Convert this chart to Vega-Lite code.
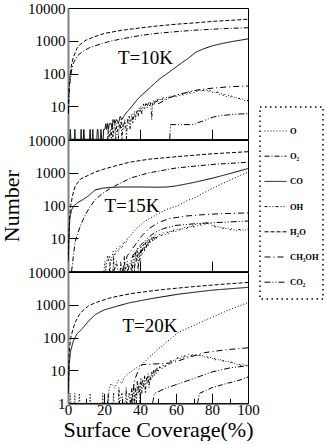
{
  "$schema": "https://vega.github.io/schema/vega-lite/v6.json",
  "padding": {"left": 0, "top": 0, "right": 0, "bottom": 0},
  "bounds": "flush",
  "datasets": {
    "lines": [
      {"p":1,"s":"H₂O","x":0.2,"y":8},{"p":1,"s":"H₂O","x":0.5,"y":30},{"p":1,"s":"H₂O","x":1,"y":70},{"p":1,"s":"H₂O","x":2,"y":200},{"p":1,"s":"H₂O","x":3,"y":320},{"p":1,"s":"H₂O","x":5,"y":590},{"p":1,"s":"H₂O","x":7,"y":800},{"p":1,"s":"H₂O","x":10,"y":1050},{"p":1,"s":"H₂O","x":15,"y":1350},{"p":1,"s":"H₂O","x":20,"y":1670},{"p":1,"s":"H₂O","x":30,"y":2100},{"p":1,"s":"H₂O","x":40,"y":2470},{"p":1,"s":"H₂O","x":50,"y":2850},{"p":1,"s":"H₂O","x":60,"y":3200},{"p":1,"s":"H₂O","x":70,"y":3500},{"p":1,"s":"H₂O","x":80,"y":3900},{"p":1,"s":"H₂O","x":90,"y":4200},{"p":1,"s":"H₂O","x":100,"y":4550},
      {"p":1,"s":"O₂","x":0.2,"y":6},{"p":1,"s":"O₂","x":0.5,"y":20},{"p":1,"s":"O₂","x":1,"y":50},{"p":1,"s":"O₂","x":2,"y":130},{"p":1,"s":"O₂","x":3,"y":210},{"p":1,"s":"O₂","x":5,"y":340},{"p":1,"s":"O₂","x":8,"y":470},{"p":1,"s":"O₂","x":12,"y":620},{"p":1,"s":"O₂","x":19,"y":830},{"p":1,"s":"O₂","x":24,"y":990},{"p":1,"s":"O₂","x":30,"y":1150},{"p":1,"s":"O₂","x":40,"y":1450},{"p":1,"s":"O₂","x":50,"y":1700},{"p":1,"s":"O₂","x":60,"y":1900},{"p":1,"s":"O₂","x":70,"y":2100},{"p":1,"s":"O₂","x":80,"y":2250},{"p":1,"s":"O₂","x":90,"y":2400},{"p":1,"s":"O₂","x":100,"y":2500},
      {"p":1,"s":"CO","x":1,"y":1},{"p":1,"s":"CO","x":1.3,"y":2},{"p":1,"s":"CO","x":1.6,"y":1},{"p":1,"s":"CO","x":3.5,"y":1},{"p":1,"s":"CO","x":3.8,"y":2},{"p":1,"s":"CO","x":4.1,"y":1},{"p":1,"s":"CO","x":7,"y":1},{"p":1,"s":"CO","x":7.3,"y":2},{"p":1,"s":"CO","x":7.6,"y":1},{"p":1,"s":"CO","x":8.5,"y":1},{"p":1,"s":"CO","x":8.8,"y":2},{"p":1,"s":"CO","x":9.1,"y":1},{"p":1,"s":"CO","x":12,"y":1},{"p":1,"s":"CO","x":12.3,"y":2},{"p":1,"s":"CO","x":12.6,"y":1},{"p":1,"s":"CO","x":13.5,"y":1},{"p":1,"s":"CO","x":13.8,"y":2},{"p":1,"s":"CO","x":14.1,"y":1},{"p":1,"s":"CO","x":16,"y":1},{"p":1,"s":"CO","x":16.3,"y":2},{"p":1,"s":"CO","x":16.6,"y":2},{"p":1,"s":"CO","x":17,"y":1},{"p":1,"s":"CO","x":18,"y":1},{"p":1,"s":"CO","x":18.3,"y":2},{"p":1,"s":"CO","x":18.7,"y":1},{"p":1,"s":"CO","x":19.5,"y":1},{"p":1,"s":"CO","x":19.8,"y":2},{"p":1,"s":"CO","x":20.5,"y":2},{"p":1,"s":"CO","x":21,"y":3},{"p":1,"s":"CO","x":21.5,"y":2},{"p":1,"s":"CO","x":22,"y":3},{"p":1,"s":"CO","x":22.5,"y":2},{"p":1,"s":"CO","x":23,"y":3},{"p":1,"s":"CO","x":24,"y":3},{"p":1,"s":"CO","x":24.5,"y":2},{"p":1,"s":"CO","x":25,"y":4},{"p":1,"s":"CO","x":26,"y":3},{"p":1,"s":"CO","x":27,"y":4},{"p":1,"s":"CO","x":28,"y":3},{"p":1,"s":"CO","x":29,"y":5},{"p":1,"s":"CO","x":30,"y":4},{"p":1,"s":"CO","x":31,"y":5},{"p":1,"s":"CO","x":32,"y":6},{"p":1,"s":"CO","x":33,"y":7},{"p":1,"s":"CO","x":34,"y":8},{"p":1,"s":"CO","x":36,"y":11},{"p":1,"s":"CO","x":38,"y":15},{"p":1,"s":"CO","x":40,"y":20},{"p":1,"s":"CO","x":42,"y":25},{"p":1,"s":"CO","x":45,"y":35},{"p":1,"s":"CO","x":48,"y":50},{"p":1,"s":"CO","x":51,"y":70},{"p":1,"s":"CO","x":55,"y":100},{"p":1,"s":"CO","x":59,"y":145},{"p":1,"s":"CO","x":63,"y":210},{"p":1,"s":"CO","x":67,"y":300},{"p":1,"s":"CO","x":71,"y":450},{"p":1,"s":"CO","x":75,"y":560},{"p":1,"s":"CO","x":80,"y":700},{"p":1,"s":"CO","x":84,"y":790},{"p":1,"s":"CO","x":88,"y":880},{"p":1,"s":"CO","x":92,"y":970},{"p":1,"s":"CO","x":96,"y":1050},{"p":1,"s":"CO","x":100,"y":1150},
      {"p":1,"s":"OH","x":22,"y":1},{"p":1,"s":"OH","x":22.3,"y":2},{"p":1,"s":"OH","x":22.6,"y":1},{"p":1,"s":"OH","x":23.5,"y":2},{"p":1,"s":"OH","x":24,"y":1},{"p":1,"s":"OH","x":24.5,"y":3},{"p":1,"s":"OH","x":25,"y":1},{"p":1,"s":"OH","x":25.5,"y":2},{"p":1,"s":"OH","x":26,"y":4},{"p":1,"s":"OH","x":26.5,"y":1},{"p":1,"s":"OH","x":27,"y":3},{"p":1,"s":"OH","x":27.5,"y":2},{"p":1,"s":"OH","x":28,"y":1},{"p":1,"s":"OH","x":28.5,"y":3},{"p":1,"s":"OH","x":29,"y":2},{"p":1,"s":"OH","x":29.5,"y":4},{"p":1,"s":"OH","x":30,"y":1},{"p":1,"s":"OH","x":30.5,"y":3},{"p":1,"s":"OH","x":31,"y":2},{"p":1,"s":"OH","x":31.5,"y":4},{"p":1,"s":"OH","x":32,"y":3},{"p":1,"s":"OH","x":32.5,"y":1},{"p":1,"s":"OH","x":33,"y":4},{"p":1,"s":"OH","x":33.5,"y":3},{"p":1,"s":"OH","x":34,"y":5},{"p":1,"s":"OH","x":34.5,"y":2},{"p":1,"s":"OH","x":35,"y":4},{"p":1,"s":"OH","x":35.5,"y":6},{"p":1,"s":"OH","x":36,"y":3},{"p":1,"s":"OH","x":36.5,"y":5},{"p":1,"s":"OH","x":37,"y":7},{"p":1,"s":"OH","x":37.5,"y":4},{"p":1,"s":"OH","x":38,"y":6},{"p":1,"s":"OH","x":38.5,"y":8},{"p":1,"s":"OH","x":39,"y":5},{"p":1,"s":"OH","x":39.5,"y":9},{"p":1,"s":"OH","x":40,"y":7},{"p":1,"s":"OH","x":40.5,"y":10},{"p":1,"s":"OH","x":41,"y":6},{"p":1,"s":"OH","x":41.5,"y":9},{"p":1,"s":"OH","x":42,"y":12},{"p":1,"s":"OH","x":42.5,"y":8},{"p":1,"s":"OH","x":43,"y":11},{"p":1,"s":"OH","x":43.5,"y":13},{"p":1,"s":"OH","x":44,"y":9},{"p":1,"s":"OH","x":44.5,"y":12},{"p":1,"s":"OH","x":45,"y":14},{"p":1,"s":"OH","x":45.5,"y":10},{"p":1,"s":"OH","x":46,"y":13},{"p":1,"s":"OH","x":46.5,"y":4},{"p":1,"s":"OH","x":47,"y":12},{"p":1,"s":"OH","x":47.5,"y":15},{"p":1,"s":"OH","x":48,"y":11},{"p":1,"s":"OH","x":48.5,"y":16},{"p":1,"s":"OH","x":49,"y":13},{"p":1,"s":"OH","x":49.5,"y":17},{"p":1,"s":"OH","x":50,"y":14},{"p":1,"s":"OH","x":51,"y":18},{"p":1,"s":"OH","x":52,"y":15},{"p":1,"s":"OH","x":53,"y":19},{"p":1,"s":"OH","x":54,"y":16},{"p":1,"s":"OH","x":55,"y":20},{"p":1,"s":"OH","x":56,"y":18},{"p":1,"s":"OH","x":57,"y":22},{"p":1,"s":"OH","x":58,"y":19},{"p":1,"s":"OH","x":59,"y":23},{"p":1,"s":"OH","x":60,"y":20},{"p":1,"s":"OH","x":61,"y":24},{"p":1,"s":"OH","x":62,"y":21},{"p":1,"s":"OH","x":63,"y":25},{"p":1,"s":"OH","x":64,"y":22},{"p":1,"s":"OH","x":65,"y":26},{"p":1,"s":"OH","x":66,"y":23},{"p":1,"s":"OH","x":67,"y":28},{"p":1,"s":"OH","x":68,"y":25},{"p":1,"s":"OH","x":69,"y":30},{"p":1,"s":"OH","x":70,"y":26},{"p":1,"s":"OH","x":71,"y":31},{"p":1,"s":"OH","x":72,"y":27},{"p":1,"s":"OH","x":73,"y":33},{"p":1,"s":"OH","x":74,"y":28},{"p":1,"s":"OH","x":75,"y":32},{"p":1,"s":"OH","x":76,"y":29},{"p":1,"s":"OH","x":77,"y":34},{"p":1,"s":"OH","x":78,"y":27},{"p":1,"s":"OH","x":79,"y":31},{"p":1,"s":"OH","x":80,"y":26},{"p":1,"s":"OH","x":81,"y":29},{"p":1,"s":"OH","x":82,"y":25},{"p":1,"s":"OH","x":83,"y":28},{"p":1,"s":"OH","x":84,"y":23},{"p":1,"s":"OH","x":85,"y":26},{"p":1,"s":"OH","x":86,"y":21},{"p":1,"s":"OH","x":87,"y":24},{"p":1,"s":"OH","x":88,"y":20},{"p":1,"s":"OH","x":89,"y":22},{"p":1,"s":"OH","x":90,"y":19},{"p":1,"s":"OH","x":91,"y":21},{"p":1,"s":"OH","x":92,"y":18},{"p":1,"s":"OH","x":93,"y":20},{"p":1,"s":"OH","x":94,"y":17},{"p":1,"s":"OH","x":95,"y":18},{"p":1,"s":"OH","x":96,"y":16},{"p":1,"s":"OH","x":97,"y":17},{"p":1,"s":"OH","x":98,"y":15},{"p":1,"s":"OH","x":99,"y":16},{"p":1,"s":"OH","x":100,"y":15},
      {"p":1,"s":"CH₃OH","x":50,"y":12},{"p":1,"s":"CH₃OH","x":56,"y":18},{"p":1,"s":"CH₃OH","x":62,"y":24},{"p":1,"s":"CH₃OH","x":68,"y":28},{"p":1,"s":"CH₃OH","x":72,"y":32},{"p":1,"s":"CH₃OH","x":76,"y":34},{"p":1,"s":"CH₃OH","x":80,"y":36},{"p":1,"s":"CH₃OH","x":85,"y":38},{"p":1,"s":"CH₃OH","x":90,"y":40},{"p":1,"s":"CH₃OH","x":95,"y":41},{"p":1,"s":"CH₃OH","x":100,"y":42},
      {"p":1,"s":"CO₂","x":56.5,"y":1},{"p":1,"s":"CO₂","x":57,"y":2.8},{"p":1,"s":"CO₂","x":63,"y":2.8},{"p":1,"s":"CO₂","x":70,"y":2.8},{"p":1,"s":"CO₂","x":72,"y":3.2},{"p":1,"s":"CO₂","x":75,"y":3.6},{"p":1,"s":"CO₂","x":78,"y":4.2},{"p":1,"s":"CO₂","x":81,"y":4.8},{"p":1,"s":"CO₂","x":85,"y":5.3},{"p":1,"s":"CO₂","x":90,"y":5.6},{"p":1,"s":"CO₂","x":95,"y":5.9},{"p":1,"s":"CO₂","x":100,"y":6},

      {"p":2,"s":"H₂O","x":0.2,"y":3},{"p":2,"s":"H₂O","x":0.5,"y":15},{"p":2,"s":"H₂O","x":1,"y":50},{"p":2,"s":"H₂O","x":1.5,"y":100},{"p":2,"s":"H₂O","x":2.5,"y":200},{"p":2,"s":"H₂O","x":4,"y":400},{"p":2,"s":"H₂O","x":7,"y":650},{"p":2,"s":"H₂O","x":11.5,"y":850},{"p":2,"s":"H₂O","x":15,"y":1050},{"p":2,"s":"H₂O","x":19,"y":1250},{"p":2,"s":"H₂O","x":24,"y":1500},{"p":2,"s":"H₂O","x":34,"y":2100},{"p":2,"s":"H₂O","x":45,"y":2600},{"p":2,"s":"H₂O","x":60,"y":3100},{"p":2,"s":"H₂O","x":80,"y":3800},{"p":2,"s":"H₂O","x":100,"y":4400},
      {"p":2,"s":"O₂","x":2,"y":1},{"p":2,"s":"O₂","x":3,"y":3},{"p":2,"s":"O₂","x":4,"y":8},{"p":2,"s":"O₂","x":5.5,"y":15},{"p":2,"s":"O₂","x":7,"y":25},{"p":2,"s":"O₂","x":9,"y":45},{"p":2,"s":"O₂","x":11.5,"y":80},{"p":2,"s":"O₂","x":15,"y":150},{"p":2,"s":"O₂","x":19,"y":230},{"p":2,"s":"O₂","x":24,"y":350},{"p":2,"s":"O₂","x":28,"y":450},{"p":2,"s":"O₂","x":35,"y":700},{"p":2,"s":"O₂","x":45,"y":1000},{"p":2,"s":"O₂","x":60,"y":1400},{"p":2,"s":"O₂","x":80,"y":1800},{"p":2,"s":"O₂","x":100,"y":2100},
      {"p":2,"s":"CO","x":0.2,"y":2},{"p":2,"s":"CO","x":0.5,"y":10},{"p":2,"s":"CO","x":1,"y":40},{"p":2,"s":"CO","x":2,"y":75},{"p":2,"s":"CO","x":3,"y":95},{"p":2,"s":"CO","x":5,"y":120},{"p":2,"s":"CO","x":8,"y":150},{"p":2,"s":"CO","x":11.5,"y":200},{"p":2,"s":"CO","x":15,"y":300},{"p":2,"s":"CO","x":19,"y":340},{"p":2,"s":"CO","x":24,"y":360},{"p":2,"s":"CO","x":30,"y":370},{"p":2,"s":"CO","x":40,"y":370},{"p":2,"s":"CO","x":50,"y":365},{"p":2,"s":"CO","x":55,"y":370},{"p":2,"s":"CO","x":60,"y":400},{"p":2,"s":"CO","x":65,"y":450},{"p":2,"s":"CO","x":70,"y":510},{"p":2,"s":"CO","x":75,"y":590},{"p":2,"s":"CO","x":80,"y":680},{"p":2,"s":"CO","x":90,"y":950},{"p":2,"s":"CO","x":100,"y":1350},
      {"p":2,"s":"O","x":20,"y":1},{"p":2,"s":"O","x":20.5,"y":2},{"p":2,"s":"O","x":21,"y":1},{"p":2,"s":"O","x":22,"y":3},{"p":2,"s":"O","x":22.5,"y":2},{"p":2,"s":"O","x":23,"y":3},{"p":2,"s":"O","x":24,"y":2},{"p":2,"s":"O","x":25,"y":4},{"p":2,"s":"O","x":26,"y":3},{"p":2,"s":"O","x":27,"y":5},{"p":2,"s":"O","x":28,"y":4},{"p":2,"s":"O","x":29,"y":6},{"p":2,"s":"O","x":30,"y":5},{"p":2,"s":"O","x":31,"y":8},{"p":2,"s":"O","x":32,"y":7},{"p":2,"s":"O","x":33,"y":10},{"p":2,"s":"O","x":34,"y":11},{"p":2,"s":"O","x":36,"y":15},{"p":2,"s":"O","x":38,"y":20},{"p":2,"s":"O","x":41,"y":28},{"p":2,"s":"O","x":45,"y":40},{"p":2,"s":"O","x":50,"y":56},{"p":2,"s":"O","x":55,"y":78},{"p":2,"s":"O","x":61,"y":100},{"p":2,"s":"O","x":66,"y":140},{"p":2,"s":"O","x":71,"y":180},{"p":2,"s":"O","x":75,"y":240},{"p":2,"s":"O","x":80,"y":330},{"p":2,"s":"O","x":85,"y":450},{"p":2,"s":"O","x":90,"y":600},{"p":2,"s":"O","x":95,"y":800},{"p":2,"s":"O","x":100,"y":1050},
      {"p":2,"s":"CH₃OH","x":30,"y":1},{"p":2,"s":"CH₃OH","x":33,"y":3},{"p":2,"s":"CH₃OH","x":37,"y":6},{"p":2,"s":"CH₃OH","x":41,"y":12},{"p":2,"s":"CH₃OH","x":45,"y":20},{"p":2,"s":"CH₃OH","x":50,"y":30},{"p":2,"s":"CH₃OH","x":56,"y":40},{"p":2,"s":"CH₃OH","x":65,"y":48},{"p":2,"s":"CH₃OH","x":75,"y":53},{"p":2,"s":"CH₃OH","x":85,"y":57},{"p":2,"s":"CH₃OH","x":100,"y":60},
      {"p":2,"s":"CO₂","x":33,"y":1},{"p":2,"s":"CO₂","x":36,"y":3},{"p":2,"s":"CO₂","x":40,"y":6},{"p":2,"s":"CO₂","x":44,"y":10},{"p":2,"s":"CO₂","x":48,"y":15},{"p":2,"s":"CO₂","x":53,"y":20},{"p":2,"s":"CO₂","x":60,"y":25},{"p":2,"s":"CO₂","x":70,"y":28},{"p":2,"s":"CO₂","x":80,"y":30},{"p":2,"s":"CO₂","x":90,"y":32},{"p":2,"s":"CO₂","x":100,"y":34},
      {"p":2,"s":"OH","x":23,"y":1},{"p":2,"s":"OH","x":23.3,"y":2},{"p":2,"s":"OH","x":23.6,"y":1},{"p":2,"s":"OH","x":25,"y":1},{"p":2,"s":"OH","x":25.3,"y":3},{"p":2,"s":"OH","x":25.6,"y":1},{"p":2,"s":"OH","x":27,"y":2},{"p":2,"s":"OH","x":27.5,"y":1},{"p":2,"s":"OH","x":29,"y":1},{"p":2,"s":"OH","x":29.3,"y":2},{"p":2,"s":"OH","x":29.6,"y":1},{"p":2,"s":"OH","x":31,"y":1},{"p":2,"s":"OH","x":31.3,"y":3},{"p":2,"s":"OH","x":31.6,"y":1},{"p":2,"s":"OH","x":33,"y":2},{"p":2,"s":"OH","x":33.5,"y":1},{"p":2,"s":"OH","x":35,"y":1},{"p":2,"s":"OH","x":35.3,"y":2},{"p":2,"s":"OH","x":35.6,"y":1},{"p":2,"s":"OH","x":36.5,"y":3},{"p":2,"s":"OH","x":37,"y":1},{"p":2,"s":"OH","x":37.5,"y":4},{"p":2,"s":"OH","x":38,"y":2},{"p":2,"s":"OH","x":38.5,"y":5},{"p":2,"s":"OH","x":39,"y":1},{"p":2,"s":"OH","x":39.5,"y":4},{"p":2,"s":"OH","x":40,"y":2},{"p":2,"s":"OH","x":40.5,"y":6},{"p":2,"s":"OH","x":41,"y":3},{"p":2,"s":"OH","x":41.5,"y":5},{"p":2,"s":"OH","x":42,"y":7},{"p":2,"s":"OH","x":42.5,"y":4},{"p":2,"s":"OH","x":43,"y":8},{"p":2,"s":"OH","x":43.5,"y":5},{"p":2,"s":"OH","x":44,"y":9},{"p":2,"s":"OH","x":44.5,"y":6},{"p":2,"s":"OH","x":45,"y":10},{"p":2,"s":"OH","x":45.5,"y":7},{"p":2,"s":"OH","x":46,"y":9},{"p":2,"s":"OH","x":46.5,"y":11},{"p":2,"s":"OH","x":47,"y":8},{"p":2,"s":"OH","x":47.5,"y":12},{"p":2,"s":"OH","x":48,"y":9},{"p":2,"s":"OH","x":48.5,"y":13},{"p":2,"s":"OH","x":49,"y":10},{"p":2,"s":"OH","x":49.5,"y":12},{"p":2,"s":"OH","x":50,"y":11},{"p":2,"s":"OH","x":51,"y":14},{"p":2,"s":"OH","x":52,"y":12},{"p":2,"s":"OH","x":53,"y":15},{"p":2,"s":"OH","x":54,"y":13},{"p":2,"s":"OH","x":55,"y":16},{"p":2,"s":"OH","x":56,"y":14},{"p":2,"s":"OH","x":57,"y":18},{"p":2,"s":"OH","x":58,"y":15},{"p":2,"s":"OH","x":59,"y":19},{"p":2,"s":"OH","x":60,"y":16},{"p":2,"s":"OH","x":61,"y":20},{"p":2,"s":"OH","x":62,"y":18},{"p":2,"s":"OH","x":63,"y":21},{"p":2,"s":"OH","x":64,"y":19},{"p":2,"s":"OH","x":65,"y":23},{"p":2,"s":"OH","x":66,"y":20},{"p":2,"s":"OH","x":67,"y":24},{"p":2,"s":"OH","x":68,"y":21},{"p":2,"s":"OH","x":69,"y":26},{"p":2,"s":"OH","x":70,"y":22},{"p":2,"s":"OH","x":71,"y":27},{"p":2,"s":"OH","x":72,"y":24},{"p":2,"s":"OH","x":73,"y":28},{"p":2,"s":"OH","x":74,"y":25},{"p":2,"s":"OH","x":75,"y":30},{"p":2,"s":"OH","x":76,"y":26},{"p":2,"s":"OH","x":77,"y":31},{"p":2,"s":"OH","x":78,"y":27},{"p":2,"s":"OH","x":79,"y":29},{"p":2,"s":"OH","x":80,"y":24},{"p":2,"s":"OH","x":81,"y":26},{"p":2,"s":"OH","x":82,"y":22},{"p":2,"s":"OH","x":83,"y":24},{"p":2,"s":"OH","x":84,"y":21},{"p":2,"s":"OH","x":85,"y":23},{"p":2,"s":"OH","x":86,"y":20},{"p":2,"s":"OH","x":87,"y":22},{"p":2,"s":"OH","x":88,"y":19},{"p":2,"s":"OH","x":89,"y":21},{"p":2,"s":"OH","x":90,"y":18},{"p":2,"s":"OH","x":91,"y":20},{"p":2,"s":"OH","x":92,"y":18},{"p":2,"s":"OH","x":93,"y":19},{"p":2,"s":"OH","x":94,"y":17},{"p":2,"s":"OH","x":95,"y":19},{"p":2,"s":"OH","x":96,"y":18},{"p":2,"s":"OH","x":97,"y":19},{"p":2,"s":"OH","x":98,"y":17},{"p":2,"s":"OH","x":99,"y":19},{"p":2,"s":"OH","x":100,"y":19},

      {"p":3,"s":"H₂O","x":0.2,"y":3},{"p":3,"s":"H₂O","x":0.6,"y":30},{"p":3,"s":"H₂O","x":1.5,"y":100},{"p":3,"s":"H₂O","x":3,"y":200},{"p":3,"s":"H₂O","x":4,"y":290},{"p":3,"s":"H₂O","x":6,"y":480},{"p":3,"s":"H₂O","x":8,"y":650},{"p":3,"s":"H₂O","x":11.5,"y":940},{"p":3,"s":"H₂O","x":16,"y":1200},{"p":3,"s":"H₂O","x":24,"y":1660},{"p":3,"s":"H₂O","x":35,"y":2200},{"p":3,"s":"H₂O","x":52,"y":2900},{"p":3,"s":"H₂O","x":70,"y":3600},{"p":3,"s":"H₂O","x":85,"y":4200},{"p":3,"s":"H₂O","x":100,"y":4800},
      {"p":3,"s":"CO","x":0.2,"y":2},{"p":3,"s":"CO","x":0.6,"y":15},{"p":3,"s":"CO","x":1.5,"y":40},{"p":3,"s":"CO","x":3,"y":80},{"p":3,"s":"CO","x":5,"y":130},{"p":3,"s":"CO","x":8,"y":190},{"p":3,"s":"CO","x":11,"y":300},{"p":3,"s":"CO","x":15,"y":500},{"p":3,"s":"CO","x":20,"y":700},{"p":3,"s":"CO","x":27,"y":900},{"p":3,"s":"CO","x":34,"y":1150},{"p":3,"s":"CO","x":45,"y":1500},{"p":3,"s":"CO","x":61,"y":2100},{"p":3,"s":"CO","x":80,"y":2800},{"p":3,"s":"CO","x":100,"y":3400},
      {"p":3,"s":"O","x":1,"y":1},{"p":3,"s":"O","x":1.3,"y":2},{"p":3,"s":"O","x":1.6,"y":1},{"p":3,"s":"O","x":3.5,"y":1},{"p":3,"s":"O","x":3.8,"y":2},{"p":3,"s":"O","x":4.1,"y":1},{"p":3,"s":"O","x":6,"y":1},{"p":3,"s":"O","x":6.3,"y":2},{"p":3,"s":"O","x":6.6,"y":1},{"p":3,"s":"O","x":12,"y":1},{"p":3,"s":"O","x":12.3,"y":2},{"p":3,"s":"O","x":12.6,"y":1},{"p":3,"s":"O","x":19,"y":1},{"p":3,"s":"O","x":19.3,"y":2},{"p":3,"s":"O","x":19.6,"y":1},{"p":3,"s":"O","x":22,"y":1},{"p":3,"s":"O","x":23,"y":3},{"p":3,"s":"O","x":24,"y":4},{"p":3,"s":"O","x":26,"y":3},{"p":3,"s":"O","x":28,"y":5},{"p":3,"s":"O","x":30,"y":4},{"p":3,"s":"O","x":31,"y":6},{"p":3,"s":"O","x":34,"y":8.5},{"p":3,"s":"O","x":38,"y":12},{"p":3,"s":"O","x":41,"y":15},{"p":3,"s":"O","x":45,"y":25},{"p":3,"s":"O","x":50,"y":44},{"p":3,"s":"O","x":55,"y":75},{"p":3,"s":"O","x":61,"y":140},{"p":3,"s":"O","x":66,"y":190},{"p":3,"s":"O","x":71,"y":250},{"p":3,"s":"O","x":76,"y":340},{"p":3,"s":"O","x":82,"y":460},{"p":3,"s":"O","x":88,"y":650},{"p":3,"s":"O","x":94,"y":880},{"p":3,"s":"O","x":100,"y":1170},
      {"p":3,"s":"CH₃OH","x":35,"y":1},{"p":3,"s":"CH₃OH","x":36,"y":2},{"p":3,"s":"CH₃OH","x":37,"y":5},{"p":3,"s":"CH₃OH","x":39,"y":10},{"p":3,"s":"CH₃OH","x":41,"y":15},{"p":3,"s":"CH₃OH","x":50,"y":16},{"p":3,"s":"CH₃OH","x":58,"y":17},{"p":3,"s":"CH₃OH","x":66,"y":24},{"p":3,"s":"CH₃OH","x":76,"y":35},{"p":3,"s":"CH₃OH","x":88,"y":43},{"p":3,"s":"CH₃OH","x":100,"y":49},
      {"p":3,"s":"CO₂","x":47,"y":1},{"p":3,"s":"CO₂","x":48,"y":2},{"p":3,"s":"CO₂","x":55,"y":3},{"p":3,"s":"CO₂","x":62,"y":4},{"p":3,"s":"CO₂","x":71,"y":6},{"p":3,"s":"CO₂","x":80,"y":9},{"p":3,"s":"CO₂","x":90,"y":12},{"p":3,"s":"CO₂","x":100,"y":14},
      {"p":3,"s":"O₂","x":72,"y":1},{"p":3,"s":"O₂","x":73,"y":2},{"p":3,"s":"O₂","x":80,"y":3},{"p":3,"s":"O₂","x":88,"y":4},{"p":3,"s":"O₂","x":95,"y":5},{"p":3,"s":"O₂","x":100,"y":6.3},
      {"p":3,"s":"OH","x":22,"y":1},{"p":3,"s":"OH","x":22.3,"y":2},{"p":3,"s":"OH","x":22.6,"y":1},{"p":3,"s":"OH","x":25,"y":1},{"p":3,"s":"OH","x":25.3,"y":2},{"p":3,"s":"OH","x":25.6,"y":1},{"p":3,"s":"OH","x":28,"y":1},{"p":3,"s":"OH","x":28.3,"y":3},{"p":3,"s":"OH","x":28.6,"y":1},{"p":3,"s":"OH","x":30,"y":2},{"p":3,"s":"OH","x":30.5,"y":1},{"p":3,"s":"OH","x":32,"y":1},{"p":3,"s":"OH","x":32.3,"y":3},{"p":3,"s":"OH","x":32.6,"y":1},{"p":3,"s":"OH","x":34,"y":2},{"p":3,"s":"OH","x":34.5,"y":1},{"p":3,"s":"OH","x":35.5,"y":3},{"p":3,"s":"OH","x":36,"y":1},{"p":3,"s":"OH","x":36.5,"y":4},{"p":3,"s":"OH","x":37,"y":1},{"p":3,"s":"OH","x":37.5,"y":3},{"p":3,"s":"OH","x":38,"y":1},{"p":3,"s":"OH","x":38.5,"y":5},{"p":3,"s":"OH","x":39,"y":2},{"p":3,"s":"OH","x":39.5,"y":4},{"p":3,"s":"OH","x":40,"y":1},{"p":3,"s":"OH","x":40.5,"y":6},{"p":3,"s":"OH","x":41,"y":2},{"p":3,"s":"OH","x":41.5,"y":5},{"p":3,"s":"OH","x":42,"y":3},{"p":3,"s":"OH","x":42.5,"y":7},{"p":3,"s":"OH","x":43,"y":2},{"p":3,"s":"OH","x":43.5,"y":6},{"p":3,"s":"OH","x":44,"y":4},{"p":3,"s":"OH","x":44.5,"y":8},{"p":3,"s":"OH","x":45,"y":3},{"p":3,"s":"OH","x":45.5,"y":7},{"p":3,"s":"OH","x":46,"y":5},{"p":3,"s":"OH","x":46.5,"y":9},{"p":3,"s":"OH","x":47,"y":6},{"p":3,"s":"OH","x":47.5,"y":10},{"p":3,"s":"OH","x":48,"y":7},{"p":3,"s":"OH","x":48.5,"y":11},{"p":3,"s":"OH","x":49,"y":8},{"p":3,"s":"OH","x":49.5,"y":12},{"p":3,"s":"OH","x":50,"y":9},{"p":3,"s":"OH","x":51,"y":13},{"p":3,"s":"OH","x":52,"y":11},{"p":3,"s":"OH","x":53,"y":15},{"p":3,"s":"OH","x":54,"y":13},{"p":3,"s":"OH","x":55,"y":17},{"p":3,"s":"OH","x":56,"y":15},{"p":3,"s":"OH","x":57,"y":20},{"p":3,"s":"OH","x":58,"y":18},{"p":3,"s":"OH","x":59,"y":22},{"p":3,"s":"OH","x":60,"y":20},{"p":3,"s":"OH","x":61,"y":25},{"p":3,"s":"OH","x":62,"y":22},{"p":3,"s":"OH","x":63,"y":27},{"p":3,"s":"OH","x":64,"y":24},{"p":3,"s":"OH","x":65,"y":29},{"p":3,"s":"OH","x":66,"y":26},{"p":3,"s":"OH","x":67,"y":31},{"p":3,"s":"OH","x":68,"y":27},{"p":3,"s":"OH","x":69,"y":30},{"p":3,"s":"OH","x":70,"y":28},{"p":3,"s":"OH","x":71,"y":32},{"p":3,"s":"OH","x":72,"y":27},{"p":3,"s":"OH","x":73,"y":30},{"p":3,"s":"OH","x":74,"y":26},{"p":3,"s":"OH","x":75,"y":29},{"p":3,"s":"OH","x":76,"y":25},{"p":3,"s":"OH","x":77,"y":27},{"p":3,"s":"OH","x":78,"y":24},{"p":3,"s":"OH","x":79,"y":26},{"p":3,"s":"OH","x":80,"y":22},{"p":3,"s":"OH","x":81,"y":25},{"p":3,"s":"OH","x":82,"y":21},{"p":3,"s":"OH","x":83,"y":23},{"p":3,"s":"OH","x":84,"y":20},{"p":3,"s":"OH","x":85,"y":22},{"p":3,"s":"OH","x":86,"y":19},{"p":3,"s":"OH","x":87,"y":21},{"p":3,"s":"OH","x":88,"y":18},{"p":3,"s":"OH","x":89,"y":19},{"p":3,"s":"OH","x":90,"y":17},{"p":3,"s":"OH","x":91,"y":18},{"p":3,"s":"OH","x":92,"y":16},{"p":3,"s":"OH","x":93,"y":17},{"p":3,"s":"OH","x":94,"y":15},{"p":3,"s":"OH","x":95,"y":16},{"p":3,"s":"OH","x":96,"y":14},{"p":3,"s":"OH","x":97,"y":16},{"p":3,"s":"OH","x":98,"y":14},{"p":3,"s":"OH","x":99,"y":15},{"p":3,"s":"OH","x":100,"y":14}
    ],
    "labels": [
      {"p":1,"t":"T=10K","x":43,"y":300},
      {"p":2,"t":"T=15K","x":35.5,"y":98},
      {"p":3,"t":"T=20K","x":45.5,"y":225}
    ]
  },
  "vconcat": [
    {
      "width": 180, "height": 131.3,
      "layer": [
        {
          "data": {"name": "lines"},
          "transform": [{"filter": "datum.p == 1"}],
          "mark": {"type": "line", "color": "black", "strokeWidth": 1, "clip": true},
          "encoding": {
            "x": {"field": "x", "type": "quantitative", "scale": {"domain": [0, 100], "nice": false},
                  "axis": {"values": [0,10,20,30,40,50,60,70,80,90,100], "labels": false, "title": null,
                           "tickSize": {"condition": {"test": "datum.value % 20 === 0", "value": -10}, "value": -5}}},
            "y": {"field": "y", "type": "quantitative", "scale": {"type": "log", "domain": [1, 10000], "nice": false},
                  "axis": {"values": [10,100,1000,10000], "format": "d", "title": null}},
            "strokeDash": {"field": "s", "type": "nominal",
                  "scale": {"domain": ["O","O₂","CO","OH","H₂O","CH₃OH","CO₂"],
                            "range": [[1,2],[5,2,1,2],[1,0],[3,2,1,2,1,2],[4,2],[6,3,1,3],[6,2,1,2,1,2]]},
                  "legend": {"title": "x", "titleOrient": "top", "titleFontSize": 6, "titlePadding": 2, "titleColor": "rgba(0,0,0,0)"}}
          }
        },
        {
          "data": {"name": "labels"},
          "transform": [{"filter": "datum.p == 1"}],
          "mark": {"type": "text", "font": "Liberation Serif", "fontSize": 19, "color": "black"},
          "encoding": {
            "x": {"field": "x", "type": "quantitative"},
            "y": {"field": "y", "type": "quantitative"},
            "text": {"field": "t"}
          }
        }
      ]
    },
    {
      "width": 180, "height": 131.3,
      "layer": [
        {
          "data": {"name": "lines"},
          "transform": [{"filter": "datum.p == 2"}],
          "mark": {"type": "line", "color": "black", "strokeWidth": 1, "clip": true},
          "encoding": {
            "x": {"field": "x", "type": "quantitative", "scale": {"domain": [0, 100], "nice": false},
                  "axis": {"values": [0,10,20,30,40,50,60,70,80,90,100], "labels": false, "title": null,
                           "tickSize": {"condition": {"test": "datum.value % 20 === 0", "value": -10}, "value": -5}}},
            "y": {"field": "y", "type": "quantitative", "scale": {"type": "log", "domain": [1, 10000], "nice": false},
                  "axis": {"values": [10,100,1000,10000], "format": "d", "title": "Number"}},
            "strokeDash": {"field": "s", "type": "nominal",
                  "scale": {"domain": ["O","O₂","CO","OH","H₂O","CH₃OH","CO₂"],
                            "range": [[1,2],[5,2,1,2],[1,0],[3,2,1,2,1,2],[4,2],[6,3,1,3],[6,2,1,2,1,2]]},
                  "legend": {"title": "x", "titleOrient": "top", "titleFontSize": 6, "titlePadding": 2, "titleColor": "rgba(0,0,0,0)"}}
          }
        },
        {
          "data": {"name": "labels"},
          "transform": [{"filter": "datum.p == 2"}],
          "mark": {"type": "text", "font": "Liberation Serif", "fontSize": 19, "color": "black"},
          "encoding": {
            "x": {"field": "x", "type": "quantitative"},
            "y": {"field": "y", "type": "quantitative"},
            "text": {"field": "t"}
          }
        }
      ]
    },
    {
      "width": 180, "height": 131.3,
      "resolve": {"axis": {"x": "independent"}},
      "layer": [
        {
          "data": {"name": "lines"},
          "transform": [{"filter": "datum.p == 3"}],
          "mark": {"type": "line", "color": "black", "strokeWidth": 1, "clip": true},
          "encoding": {
            "x": {"field": "x", "type": "quantitative", "scale": {"domain": [0, 100], "nice": false},
                  "axis": {"orient": "bottom", "values": [0,20,40,60,80,100], "title": "Surface Coverage(%)",
                           "labelPadding": 9, "tickSize": -10}},
            "y": {"field": "y", "type": "quantitative", "scale": {"type": "log", "domain": [1, 10000], "nice": false},
                  "axis": {"values": [1,10,100,1000,10000], "format": "d", "title": null}},
            "strokeDash": {"field": "s", "type": "nominal",
                  "scale": {"domain": ["O","O₂","CO","OH","H₂O","CH₃OH","CO₂"],
                            "range": [[1,2],[5,2,1,2],[1,0],[3,2,1,2,1,2],[4,2],[6,3,1,3],[6,2,1,2,1,2]]},
                  "legend": {"title": "x", "titleOrient": "top", "titleFontSize": 6, "titlePadding": 2, "titleColor": "rgba(0,0,0,0)"}}
          }
        },
        {
          "data": {"name": "labels"},
          "transform": [{"filter": "datum.p == 3"}],
          "mark": {"type": "text", "font": "Liberation Serif", "fontSize": 19, "color": "black"},
          "encoding": {
            "x": {"field": "x", "type": "quantitative",
                  "axis": {"orient": "bottom", "values": [10,30,50,70,90], "labels": false, "domain": false, "title": null, "tickSize": -5}},
            "y": {"field": "y", "type": "quantitative"},
            "text": {"field": "t"}
          }
        }
      ]
    }
  ],
  "spacing": 0,
  "config": {
    "font": "Liberation Serif",
    "view": {"stroke": "black", "strokeWidth": 1},
    "axis": {
      "labelFont": "Liberation Serif", "labelFontSize": 15, "labelColor": "black",
      "titleFont": "Liberation Serif", "titleFontSize": 22, "titleFontWeight": "normal", "titleColor": "black",
      "grid": false, "tickColor": "black", "domainColor": "black",
      "labelFlush": false, "labelOverlap": false, "tickSize": -10
    },
    "axisY": {"domainColor": "#808080", "domainWidth": 2, "titlePadding": 4, "labelPadding": 13},
    "axisX": {"titlePadding": 2},
    "legend": {
      "orient": "none", "legendX": 192, "legendY": 99,
      "symbolType": "stroke", "symbolStrokeColor": "black", "symbolStrokeWidth": 1,
      "symbolSize": 484, "clipHeight": 24, "rowPadding": 1.2, "padding": 4, "labelOffset": 3,
      "labelFont": "Liberation Serif", "labelFontWeight": "bold", "labelFontSize": 8.5, "labelColor": "black",
      "strokeColor": "black", "strokeDash": [1.5, 3.5], "strokeWidth": 1.5
    }
  }
}
